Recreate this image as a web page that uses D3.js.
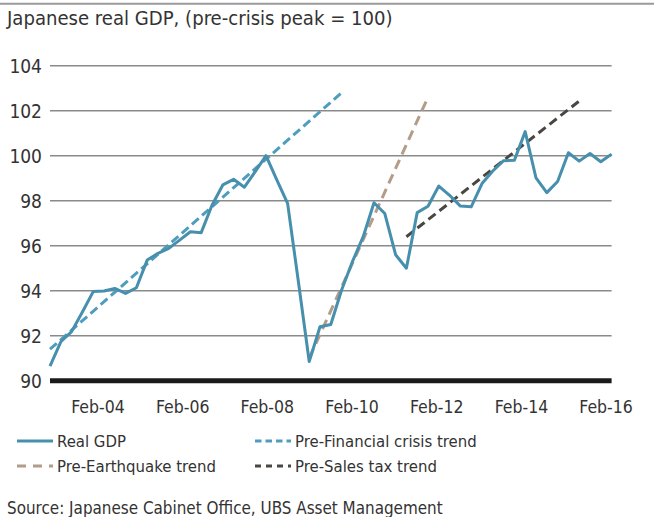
<!DOCTYPE html>
<html>
<head>
<meta charset="utf-8">
<script src="https://cdn.jsdelivr.net/npm/d3@7"></script>
<style>
  body { margin: 0; background: #fff; }
  svg { display: block; }
  text { font-family: "Liberation Sans Narrow", "DejaVu Sans Condensed", sans-serif; fill: #333; }
</style>
</head>
<body>
<svg id="chart"></svg>
<script>
// quarters 2003Q1 .. 2016Q1
var quarters = [
  "2003Q1","2003Q2","2003Q3","2003Q4","2004Q1","2004Q2","2004Q3","2004Q4",
  "2005Q1","2005Q2","2005Q3","2005Q4","2006Q1","2006Q2","2006Q3","2006Q4",
  "2007Q1","2007Q2","2007Q3","2007Q4","2008Q1","2008Q2","2008Q3","2008Q4",
  "2009Q1","2009Q2","2009Q3","2009Q4","2010Q1","2010Q2","2010Q3","2010Q4",
  "2011Q1","2011Q2","2011Q3","2011Q4","2012Q1","2012Q2","2012Q3","2012Q4",
  "2013Q1","2013Q2","2013Q3","2013Q4","2014Q1","2014Q2","2014Q3","2014Q4",
  "2015Q1","2015Q2","2015Q3","2015Q4","2016Q1"
];

var realGdp = [
  90.65, 91.73, 92.18, 93.05, 93.96, 93.99, 94.10, 93.88,
  94.13, 95.36, 95.66, 95.88, 96.25, 96.62, 96.58, 97.80,
  98.70, 98.95, 98.60, 99.29, 100.0, 98.93, 97.88, 94.40,
  90.85, 92.40, 92.50, 94.03, 95.29, 96.40, 97.91, 97.43,
  95.60, 95.00, 97.47, 97.75, 98.65, 98.24, 97.76, 97.73,
  98.76, 99.32, 99.78, 99.80, 101.07, 99.01, 98.36, 98.85,
  100.13, 99.76, 100.10, 99.73, 100.07
];

// trend lines, start and end points
var preCrisisTrend = [{q: "2003Q1", v: 91.4}, {q: "2009Q4", v: 102.8}];
var preQuakeTrend = [{q: "2009Q1", v: 91.0}, {q: "2011Q4", v: 102.6}];
var preTaxTrend = [{q: "2011Q2", v: 96.4}, {q: "2015Q2", v: 102.43}];

var yTicks = [90, 92, 94, 96, 98, 100, 102, 104];
var xTickLabels = ["Feb-04", "Feb-06", "Feb-08", "Feb-10", "Feb-12", "Feb-14", "Feb-16"];

var legendItems = [
  {name: "Real GDP", color: "#468fad", dash: null, col: 0, row: 0},
  {name: "Pre-Financial crisis trend", color: "#4f9dbd", dash: "6.5,4", col: 1, row: 0},
  {name: "Pre-Earthquake trend", color: "#b39c88", dash: "9,7", col: 0, row: 1},
  {name: "Pre-Sales tax trend", color: "#4a4642", dash: "6,5", col: 1, row: 1}
];

var W = 654, H = 517;
var margin = {top: 65.7, right: 611.6, bottom: 380.7, left: 50};

var svg = d3.select("#chart").attr("width", W).attr("height", H);

// top rule
svg.append("line")
  .attr("x1", 0).attr("x2", W).attr("y1", 3.7).attr("y2", 3.7)
  .attr("stroke", "#9a9a9a").attr("stroke-width", 2);

// title
svg.append("text")
  .attr("x", 7).attr("y", 25)
  .attr("font-size", "20.1px")
  .text("Japanese real GDP, (pre-crisis peak = 100)");

var x = d3.scalePoint().domain(quarters).range([margin.left, margin.right]);
var y = d3.scaleLinear().domain([90, 104]).range([margin.bottom, margin.top]);

// date scale just for the axis labels
var xDate = d3.scaleTime()
  .domain([new Date(2002, 11, 14), new Date(2016, 2, 20)])
  .range([margin.left, margin.right]);

// horizontal grid
svg.append("g")
  .selectAll("line")
  .data(yTicks.filter(function(d) { return d > 90; }))
  .enter().append("line")
  .attr("x1", margin.left).attr("x2", margin.right)
  .attr("y1", function(d) { return y(d); })
  .attr("y2", function(d) { return y(d); })
  .attr("stroke", "#8a8a8a")
  .attr("stroke-width", 1.5);

// y labels
svg.append("g")
  .selectAll("text")
  .data(yTicks)
  .enter().append("text")
  .attr("x", 42)
  .attr("y", function(d) { return y(d); })
  .attr("dy", "0.36em")
  .attr("text-anchor", "end")
  .attr("font-size", "19px")
  .text(function(d) { return d; });

// x labels
var xTickDates = xTickLabels.map(function(s) {
  return d3.timeParse("%b-%y")(s);
});
svg.append("g")
  .selectAll("text")
  .data(xTickDates)
  .enter().append("text")
  .attr("x", function(d) { return xDate(d); })
  .attr("y", 413)
  .attr("text-anchor", "middle")
  .attr("font-size", "17.5px")
  .text(function(d, i) { return xTickLabels[i]; });

// trends
var trendLine = d3.line()
  .x(function(d) { return x(d.q); })
  .y(function(d) { return y(d.v); });

function drawTrend(data, color, dash) {
  svg.append("path")
    .datum(data)
    .attr("fill", "none")
    .attr("stroke", color)
    .attr("stroke-width", 3)
    .attr("stroke-dasharray", dash)
    .attr("d", trendLine);
}
drawTrend(preCrisisTrend, "#4f9dbd", "9,4.5");
drawTrend(preQuakeTrend, "#b39c88", "10,6");
drawTrend(preTaxTrend, "#4a4642", "9,5");

// gdp line
var line = d3.line()
  .x(function(d, i) { return x(quarters[i]); })
  .y(function(d) { return y(d); });

svg.append("path")
  .datum(realGdp)
  .attr("fill", "none")
  .attr("stroke", "#468fad")
  .attr("stroke-width", 3)
  .attr("stroke-linejoin", "round")
  .attr("d", line);

// baseline
svg.append("line")
  .attr("x1", margin.left).attr("x2", margin.right)
  .attr("y1", y(90)).attr("y2", y(90))
  .attr("stroke", "#1a1a1a")
  .attr("stroke-width", 5);

// legend
var lg = svg.append("g");
var colX = [17, 255], rowY = [441, 466];
legendItems.forEach(function(d) {
  var lx = colX[d.col], ly = rowY[d.row];
  lg.append("line")
    .attr("x1", lx).attr("x2", lx + 36)
    .attr("y1", ly).attr("y2", ly)
    .attr("stroke", d.color)
    .attr("stroke-width", 3)
    .attr("stroke-dasharray", d.dash);
  lg.append("text")
    .attr("x", lx + 40).attr("y", ly)
    .attr("dy", "0.36em")
    .attr("font-size", "16.6px")
    .text(d.name);
});

// source
svg.append("text")
  .attr("x", 7).attr("y", 514)
  .attr("font-family", "'Open Sans', sans-serif")
  .attr("font-size", "16.9px")
  .text("Source: Japanese Cabinet Office, UBS Asset Management");
</script>
</body>
</html>
